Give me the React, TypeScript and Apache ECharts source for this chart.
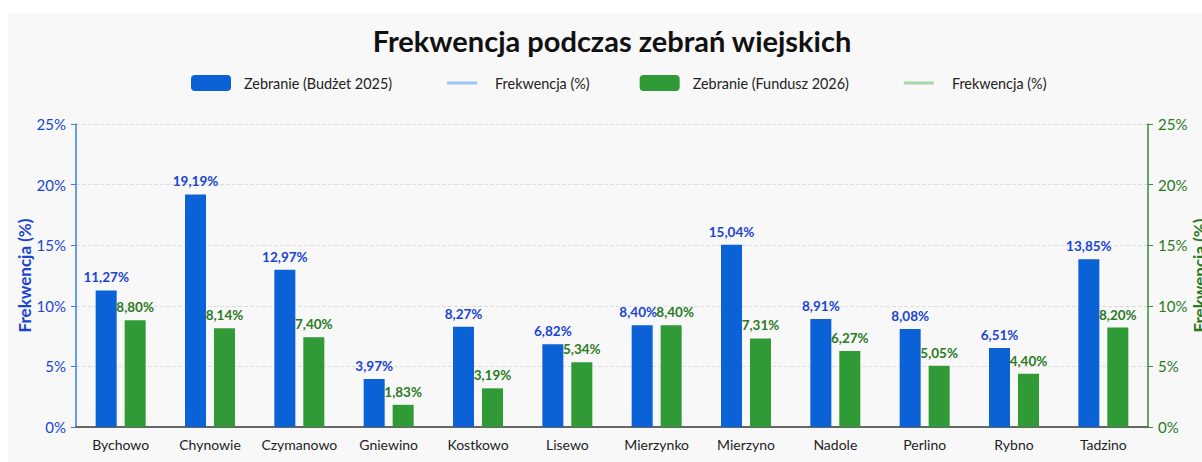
import React, { useEffect, useRef } from "react";
import * as echarts from "echarts";

const categories = ["Bychowo", "Chynowie", "Czymanowo", "Gniewino", "Kostkowo", "Lisewo", "Mierzynko", "Mierzyno", "Nadole", "Perlino", "Rybno", "Tadzino"];
const budzet2025 = [11.27, 19.19, 12.97, 3.97, 8.27, 6.82, 8.40, 15.04, 8.91, 8.08, 6.51, 13.85];
const fundusz2026 = [8.80, 8.14, 7.40, 1.83, 3.19, 5.34, 8.40, 7.31, 6.27, 5.05, 4.40, 8.20];
const yTicks = [0, 5, 10, 15, 20, 25];

const FONT = "Lato, 'Noto Sans', sans-serif";
const BLUE = "#0b62d6";
const GREEN = "#2f9a36";
const BLUE_TXT = "#1a44d4";
const GREEN_TXT = "#2a7a1e";
const LINE_ICON = "path://M0,0 M40,16 M5,6.5 L35,6.5 L35,9.5 L5,9.5 Z";

const fmt = (v: number) => v.toFixed(2).replace(".", ",") + "%";

// when both bars of a category are equally high, push their labels apart a little
const labelShift = (i: number, dir: number) =>
  Math.abs(budzet2025[i] - fundusz2026[i]) < 0.8 ? [dir * 4, 0] : [0, 0];

export default function App() {
  const ref = useRef<HTMLDivElement>(null);
  useEffect(() => {
    const chart = echarts.init(ref.current!, null, { renderer: "svg" });
    const labelBase = { show: true, position: "top", distance: 6, fontFamily: FONT, fontSize: 13.5, fontWeight: "bold" };
    chart.setOption({
      animation: false,
      backgroundColor: "#f8f8f8",
      textStyle: { fontFamily: FONT },
      title: {
        text: "Frekwencja podczas zebrań wiejskich",
        left: 599,
        top: 8,
        textAlign: "center",
        textStyle: { fontFamily: FONT, fontSize: 29, fontWeight: "bold", color: "#111" },
      },
      legend: {
        left: 178,
        top: 57,
        itemWidth: 40,
        itemHeight: 16,
        itemGap: 50,
        symbolKeepAspect: false,
        textStyle: { fontFamily: FONT, fontSize: 14.4, color: "#222", padding: [0, 0, 0, 8] },
        data: [
          { name: "Zebranie (Budżet 2025)" },
          { name: "Frekwencja (%)", icon: LINE_ICON },
          { name: "Zebranie (Fundusz 2026)" },
          { name: "Frekwencja (%) ", icon: LINE_ICON },
        ],
      },
      grid: { left: 68, right: 54, top: 111, bottom: 35, outerBoundsMode: "none", containLabel: false },
      xAxis: {
        type: "category",
        data: categories,
        axisLine: { lineStyle: { color: "#666", width: 2 } },
        axisTick: { show: false },
        axisLabel: { fontFamily: FONT, fontSize: 14, color: "#1e1e1e", margin: 10, interval: 0 },
      },
      yAxis: [
        {
          type: "value",
          min: 0,
          max: 25,
          interval: 5,
          position: "left",
          name: "Frekwencja (%)",
          nameLocation: "middle",
          nameGap: 43,
          nameMoveOverlap: false,
          nameTextStyle: { fontFamily: FONT, fontSize: 17, fontWeight: "bold", color: BLUE_TXT },
          axisLine: { show: true, lineStyle: { color: "#3b7fe0", width: 1.5 } },
          axisTick: { show: true, length: 5, lineStyle: { color: "#3b7fe0" } },
          axisLabel: { fontFamily: FONT, fontSize: 15, color: BLUE_TXT, margin: 10, formatter: (v: number) => (yTicks.includes(v) ? v + "%" : "") },
          splitLine: { show: true, lineStyle: { color: "#dddddd", type: "dashed" } },
        },
        {
          type: "value",
          min: 0,
          max: 25,
          interval: 5,
          position: "right",
          name: "Frekwencja (%)",
          nameLocation: "middle",
          nameGap: 43,
          nameRotate: 90,
          nameMoveOverlap: false,
          nameTextStyle: { fontFamily: FONT, fontSize: 17, fontWeight: "bold", color: GREEN_TXT },
          axisLine: { show: true, lineStyle: { color: "#3a8a3a", width: 1.5 } },
          axisTick: { show: true, length: 5, lineStyle: { color: "#3a8a3a" } },
          axisLabel: { fontFamily: FONT, fontSize: 15, color: GREEN_TXT, margin: 10, formatter: (v: number) => v + "%" },
          splitLine: { show: false },
        },
      ],
      series: [
        {
          name: "Zebranie (Budżet 2025)",
          type: "bar",
          data: budzet2025.map((v, i) => ({ value: v, label: { offset: labelShift(i, -1) } })),
          barWidth: 21,
          barGap: "38%",
          itemStyle: { color: BLUE },
          label: { ...labelBase, color: BLUE_TXT, formatter: (p: any) => fmt(p.value) },
        },
        {
          name: "Frekwencja (%)",
          type: "line",
          data: [],
          symbol: "none",
          lineStyle: { color: "#9cc6f0", width: 3 },
          itemStyle: { color: "#9cc6f0" },
        },
        {
          name: "Zebranie (Fundusz 2026)",
          type: "bar",
          data: fundusz2026.map((v, i) => ({ value: v, label: { offset: labelShift(i, 1) } })),
          barWidth: 21,
          barGap: "38%",
          yAxisIndex: 1,
          itemStyle: { color: GREEN },
          label: { ...labelBase, color: GREEN_TXT, formatter: (p: any) => fmt(p.value) },
        },
        {
          name: "Frekwencja (%) ",
          type: "line",
          data: [],
          yAxisIndex: 1,
          symbol: "none",
          lineStyle: { color: "#a6d8a6", width: 3 },
          itemStyle: { color: "#a6d8a6" },
        },
      ],
    });
    return () => chart.dispose();
  }, []);
  return <div ref={ref} style={{ position: "fixed", left: 8, top: 13, width: 1194, height: 449 }} />;
}
